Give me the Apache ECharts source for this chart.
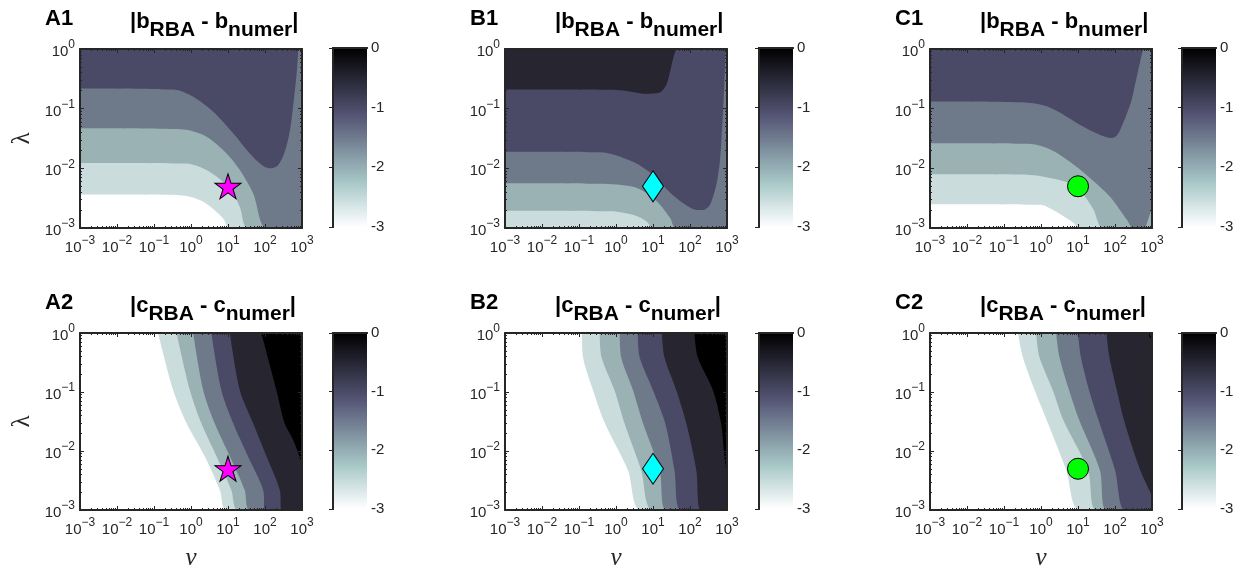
<!DOCTYPE html>
<html><head><meta charset="utf-8">
<script src="https://cdn.jsdelivr.net/npm/echarts@6/dist/echarts.min.js"></script>
<style>html,body{margin:0;padding:0;background:#fff}#c{width:1248px;height:581px}</style>
</head><body><div id="c"></div>
<script>
// ---------- axis / colorbar values ----------
const nuRange = [0.001, 1000];          // ν axis limits
const lambdaRange = [0.001, 1];         // λ axis limits
const cbTicks = [0, -1, -2, -3];        // colorbar ticks (log10 error)
const levels = [-2.5, -2, -1.5, -1, -0.5, 0];
const markerNu = 10, markerLambda = 0.005;
const panelIds = ['A1', 'B1', 'C1', 'A2', 'B2', 'C2'];

// ---------- contour boundaries: [log10 ν, log10 λ]; region above each curve >= level ----------
const A1_m25 = [[-3,-2.44],[-0.3,-2.45],[0.24,-2.53],[0.6,-2.68],[0.87,-2.84],[1.05,-3],[3,-3]];
const A1_m20 = [[-3,-1.91],[-0.12,-1.92],[0.42,-2.03],[0.87,-2.23],[1.14,-2.42],[1.32,-2.65],[1.54,-3],[3,-3]];
const A1_m15 = [[-3,-1.33],[-0.21,-1.35],[0.42,-1.47],[0.96,-1.75],[1.32,-2.03],[1.68,-2.42],[2.04,-3],[3,-3]];
const A1_m10 = [[-3,-0.66],[-0.48,-0.68],[0.06,-0.80],[0.6,-1.05],[1.14,-1.41],[1.59,-1.75],[1.95,-1.96],[2.17,-2.0],[2.35,-1.95],[2.53,-1.73],[2.67,-1.38],[2.78,-0.85],[2.87,-0.3],[2.9,0]];

const B1_m25 = [[-3,-3],[3,-3]];
const B1_m20 = [[-3,-2.71],[-0.16,-2.72],[0.46,-2.78],[0.83,-2.89],[1.0,-3],[3,-3]];
const B1_m15 = [[-3,-2.25],[-0.43,-2.26],[0.46,-2.31],[0.92,-2.45],[1.19,-2.61],[1.46,-2.83],[1.62,-3],[3,-3]];
const B1_m10 = [[-3,-1.72],[-0.43,-1.73],[0.46,-1.89],[1.0,-2.11],[1.54,-2.45],[2.08,-2.68],[2.35,-2.70],[2.54,-2.61],[2.72,-2.25],[2.81,-1.86],[2.86,-1.4],[2.9,-0.95],[2.93,-0.57],[2.97,0]];
const B1_m05 = [[-3,-0.68],[0.10,-0.69],[0.82,-0.75],[1.18,-0.73],[1.36,-0.60],[1.47,-0.35],[1.56,-0.12],[1.63,0]];

const C1_m25 = [[-3,-2.60],[0.0,-2.61],[0.24,-2.67],[0.6,-2.8],[0.85,-2.9],[1.05,-3],[3,-3]];
const C1_m20 = [[-3,-2.10],[-0.3,-2.11],[0.24,-2.16],[0.7,-2.23],[1.0,-2.33],[1.41,-2.68],[1.68,-3],[3,-3]];
const C1_m15 = [[-3,-1.58],[-0.35,-1.59],[0.24,-1.68],[0.78,-1.89],[1.32,-2.16],[1.86,-2.47],[2.32,-2.86],[2.5,-3],[2.78,-3],[2.9,-2.85],[3,-2.65]];
const C1_m10 = [[-3,-0.88],[-0.35,-0.9],[0.24,-0.98],[1.14,-1.30],[1.6,-1.44],[1.91,-1.49],[2.05,-1.45],[2.18,-1.30],[2.36,-1.02],[2.45,-0.85],[2.53,-0.63],[2.67,-0.24],[2.76,0]];

const A2_m25 = [[-0.89,0],[-0.48,-0.97],[-0.12,-1.53],[0.37,-2.09],[0.78,-2.66],[0.96,-3],[3,-3]];
const A2_m20 = [[-0.39,0],[-0.03,-0.97],[0.28,-1.53],[0.69,-2.09],[1.09,-2.66],[1.27,-3],[3,-3]];
const A2_m15 = [[0.06,0],[0.33,-0.97],[0.64,-1.53],[1.05,-2.09],[1.45,-2.66],[1.59,-3],[3,-3]];
const A2_m10 = [[0.55,0],[0.82,-0.97],[1.14,-1.53],[1.54,-2.09],[1.95,-2.66],[2.0,-3],[3,-3]];
const A2_m05 = [[1.05,0],[1.32,-0.97],[1.68,-1.53],[2.04,-2.09],[2.40,-2.66],[2.45,-3],[3,-3]];
const A2_p00 = [[1.90,0],[2.31,-0.97],[2.53,-1.53],[2.76,-1.81],[3.0,-2.21]];

const B2_m25 = [[-0.92,0],[-0.89,-0.41],[-0.62,-0.97],[-0.30,-1.53],[0.32,-2.32],[0.68,-3],[3,-3]];
const B2_m20 = [[-0.44,0],[-0.39,-0.41],[-0.04,-0.97],[0.23,-1.53],[0.68,-2.32],[1.0,-3],[3,-3]];
const B2_m15 = [[0.10,0],[0.14,-0.41],[0.46,-0.97],[0.73,-1.53],[1.18,-2.32],[1.36,-3],[3,-3]];
const B2_m10 = [[0.59,0],[0.64,-0.41],[1.0,-0.97],[1.33,-1.53],[1.58,-2.32],[1.76,-3],[3,-3]];
const B2_m05 = [[1.24,0],[1.31,-0.41],[1.63,-0.97],[1.90,-1.53],[2.17,-2.32],[2.30,-3],[3,-3]];
const B2_p00 = [[2.12,0],[2.21,-0.41],[2.62,-0.97],[2.84,-1.53],[2.93,-2.09],[3.0,-2.43]];

const C2_m25 = [[-0.62,0],[-0.49,-0.41],[-0.17,-0.97],[0.15,-1.47],[0.68,-2.32],[1.05,-3],[3,-3]];
const C2_m20 = [[-0.13,0],[-0.04,-0.41],[0.32,-0.97],[0.60,-1.47],[1.27,-2.32],[1.51,-3],[3,-3]];
const C2_m15 = [[0.41,0],[0.5,-0.41],[0.76,-0.97],[1.03,-1.47],[1.59,-2.32],[1.78,-3],[3,-3]];
const C2_m10 = [[1.0,0],[1.08,-0.41],[1.3,-0.97],[1.55,-1.47],[2.0,-2.32],[2.27,-3],[3,-3]];
const C2_m05 = [[1.77,0],[1.85,-0.41],[2.05,-0.97],[2.24,-1.47],[2.68,-2.32],[3.0,-2.75]];
const C2_p00 = [[2.89,0],[3.0,-0.15]];

// ---------- panel definitions (which boundaries at which level) ----------
const panelBounds = {
  A1: [[-2.5, A1_m25], [-2, A1_m20], [-1.5, A1_m15], [-1, A1_m10]],
  B1: [[-2.5, B1_m25], [-2, B1_m20], [-1.5, B1_m15], [-1, B1_m10], [-0.5, B1_m05]],
  C1: [[-2.5, C1_m25], [-2, C1_m20], [-1.5, C1_m15], [-1, C1_m10]],
  A2: [[-2.5, A2_m25], [-2, A2_m20], [-1.5, A2_m15], [-1, A2_m10], [-0.5, A2_m05], [0, A2_p00]],
  B2: [[-2.5, B2_m25], [-2, B2_m20], [-1.5, B2_m15], [-1, B2_m10], [-0.5, B2_m05], [0, B2_p00]],
  C2: [[-2.5, C2_m25], [-2, C2_m20], [-1.5, C2_m15], [-1, C2_m10], [-0.5, C2_m05], [0, C2_p00]]
};

// ---------- styles & layout ----------
const levelColors = ['#cadcdb', '#9ab2b4', '#6e7a8a', '#4a4966', '#262530', '#000000'];
const cbStops = ['#000000','#1c1c27','#38384d','#545474','#6f7a8f','#8ba1ab','#a7c7c7','#d3e3e3','#ffffff'];
const AX = '#262626';
const FONT = 'Liberation Sans';
const colLeft = [80, 505, 930], plotW = 222;
const cbLeft = [333, 759, 1182], cbW = 34;
const rowTop = [49, 333], rowH = [179, 177];
const cbTop = [48, 333], cbH = [179, 176];
const titleTop = [8, 292];
const markerStyles = {
  A: {symbol: 'path://M50 0 L61.2 34.5 L97.6 34.5 L68.2 55.9 L79.4 90.5 L50 69.1 L20.6 90.5 L31.8 55.9 L2.4 34.5 L38.8 34.5 Z', size: [26, 25], color: '#ff00ff'},
  B: {symbol: 'diamond', size: [21, 31], color: '#00ffff'},
  C: {symbol: 'circle', size: 21, color: '#00ff00'}
};

const tickRich = {
  b: {fontFamily: FONT, fontSize: 15, color: AX, padding: [6, 0, 0, 0]},
  s: {fontFamily: FONT, fontSize: 12, color: AX, padding: [0, 0, 8, 0]}
};
const expLabel = v => {
  const e = Math.round(Math.log10(v));
  return '{b|10}{s|' + (e < 0 ? '\u2212' + (-e) : e) + '}';
};

const grid = [], xAxis = [], yAxis = [], series = [], title = [], graphic = [];
const lineAx = {show: true, lineStyle: {color: AX, width: 2}};
const logTick = {show: true, inside: true, length: 4, lineStyle: {color: AX}};
const logMinor = {show: true, splitNumber: 9, length: 2, lineStyle: {color: AX, width: 1}};

panelIds.forEach((id, i) => {
  const col = i % 3, row = Math.floor(i / 3), colL = 'ABC'[col];
  grid.push({left: colLeft[col], top: rowTop[row], width: plotW, height: rowH[row]});
  const xb = {type: 'log', logBase: 10, min: nuRange[0], max: nuRange[1], gridIndex: i, splitNumber: 6, z: 20,
    axisLine: lineAx, splitLine: {show: false}, minorSplitLine: {show: false},
    axisTick: logTick, minorTick: logMinor,
    axisLabel: {show: true, formatter: expLabel, rich: tickRich, margin: 6, showMinLabel: true, showMaxLabel: true}};
  if (row === 1) Object.assign(xb, {name: 'ν', nameLocation: 'middle', nameGap: 36,
    nameTextStyle: {fontFamily: 'Liberation Serif', fontStyle: 'italic', fontSize: 25, color: AX}});
  xAxis.push(xb);
  xAxis.push(Object.assign({}, xb, {position: 'top', axisLabel: {show: false}, name: ''}));
  const yl = {type: 'log', logBase: 10, min: lambdaRange[0], max: lambdaRange[1], gridIndex: i, splitNumber: 3, z: 20,
    axisLine: lineAx, splitLine: {show: false}, minorSplitLine: {show: false},
    axisTick: logTick, minorTick: logMinor,
    axisLabel: {show: true, formatter: expLabel, rich: tickRich, margin: 5, showMinLabel: true, showMaxLabel: true}};
  yAxis.push(yl);
  yAxis.push(Object.assign({}, yl, {position: 'right', axisLabel: {show: false}}));

  panelBounds[id].forEach(([lev, pts]) => {
    const k = levels.indexOf(lev);
    series.push({type: 'line', xAxisIndex: 2 * i, yAxisIndex: 2 * i, silent: true, z: 2 + k,
      data: pts.map(p => [Math.pow(10, p[0]), Math.pow(10, p[1])]),
      showSymbol: false, symbol: 'none', smooth: 0.3, lineStyle: {width: 0},
      areaStyle: {origin: 'end', color: levelColors[k], opacity: 1}});
  });
  const ms = markerStyles[colL];
  series.push({type: 'scatter', xAxisIndex: 2 * i, yAxisIndex: 2 * i, z: 15, silent: true,
    data: [[markerNu, markerLambda]], symbol: ms.symbol, symbolSize: ms.size,
    itemStyle: {color: ms.color, borderColor: '#000', borderWidth: 1, opacity: 1}});

  const letter = row === 0 ? 'b' : 'c';
  title.push({text: id, left: colLeft[col] - 35, top: titleTop[row], padding: 0,
    textStyle: {fontFamily: FONT, fontWeight: 'bold', fontSize: 22, color: '#000'}});
  title.push({text: '{m||' + letter + '}{s|RBA}{m| - ' + letter + '}{s|numer}{m||}',
    left: colLeft[col] + 50, top: titleTop[row] - 6, padding: 0,
    textStyle: {rich: {
      m: {fontFamily: FONT, fontWeight: 'bold', fontSize: 22, color: '#000'},
      s: {fontFamily: FONT, fontWeight: 'bold', fontSize: 21, color: '#000', padding: [18, 0, 0, 0]}}}});
  if (col === 0) graphic.push({type: 'text', x: 22, y: rowTop[row] + rowH[row] / 2, rotation: Math.PI / 2,
    style: {text: 'λ', font: '25px "Liberation Serif"', fill: AX, align: 'center', verticalAlign: 'middle'}});
});

// colorbars
const cbMax = Math.max(...cbTicks), cbMin = Math.min(...cbTicks);
panelIds.forEach((id, i) => {
  const col = i % 3, row = Math.floor(i / 3), g = 6 + i;
  grid.push({left: cbLeft[col], top: cbTop[row], width: cbW, height: cbH[row]});
  const xa = {type: 'value', min: 0, max: 1, gridIndex: g, z: 20, axisLine: lineAx,
    axisTick: {show: false}, axisLabel: {show: false}, splitLine: {show: false}};
  xAxis.push(xa); xAxis.push(Object.assign({}, xa, {position: 'top'}));
  const ya = {type: 'value', min: cbMin, max: cbMax, interval: 1, gridIndex: g, z: 20, position: 'right',
    axisLine: lineAx, splitLine: {show: false},
    axisTick: {show: true, inside: true, length: 4, lineStyle: {color: AX}},
    axisLabel: {show: true, margin: 4, fontFamily: FONT, fontSize: 15, color: AX}};
  yAxis.push(ya);
  yAxis.push(Object.assign({}, ya, {position: 'left', axisLabel: {show: false}, axisTick: {show: false}}));
  series.push({type: 'custom', xAxisIndex: 12 + 2 * i, yAxisIndex: 12 + 2 * i, silent: true,
    data: [[0, cbMax]],
    renderItem: (params, api) => {
      const p0 = api.coord([0, cbMax]), p1 = api.coord([1, cbMin]);
      return {type: 'rect', shape: {x: p0[0], y: p0[1], width: p1[0] - p0[0], height: p1[1] - p0[1]},
        style: {fill: new echarts.graphic.LinearGradient(0, 0, 0, 1,
          cbStops.map((c, j) => ({offset: j / (cbStops.length - 1), color: c})))}};
    }});
});

const chart = echarts.init(document.getElementById('c'), null, {renderer: 'canvas'});
chart.setOption({animation: false, backgroundColor: '#ffffff', title, grid, xAxis, yAxis, series, graphic});
</script></body></html>
